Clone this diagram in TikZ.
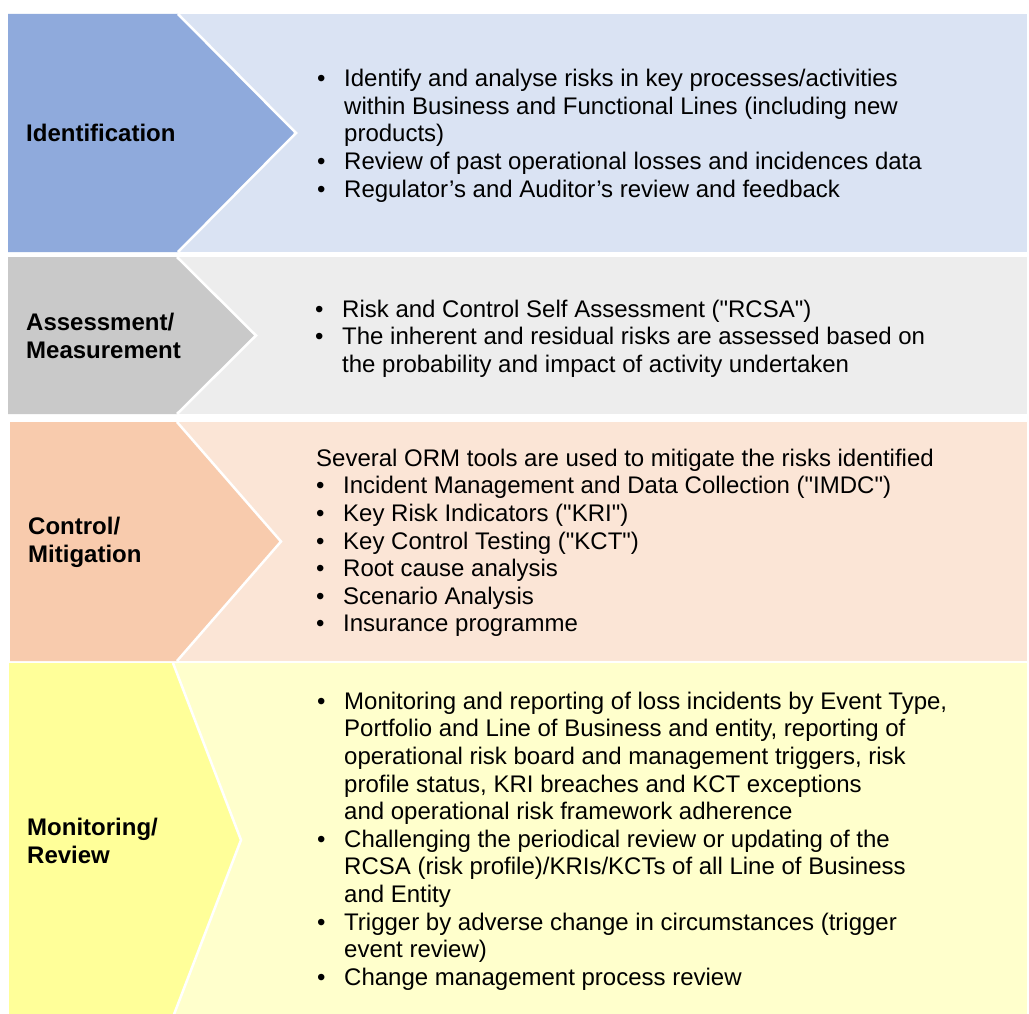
\documentclass[tikz,border=0pt]{standalone}
\usepackage{fontspec}
\setmainfont{Liberation Sans}

\definecolor{idarrow}{HTML}{8FAADC}
\definecolor{idpanel}{HTML}{DAE3F3}
\definecolor{asarrow}{HTML}{C9C9C9}
\definecolor{aspanel}{HTML}{EDEDED}
\definecolor{ctarrow}{HTML}{F8CBAD}
\definecolor{ctpanel}{HTML}{FBE5D6}
\definecolor{moarrow}{HTML}{FFFF99}
\definecolor{mopanel}{HTML}{FFFFCC}

% bullet line and its continuation
\newcommand{\bul}[1]{\makebox[27pt][l]{\textbullet}#1}
\newcommand{\cont}[1]{\hspace*{27pt}#1}
% straight quotes around an abbreviation
\newcommand{\abbr}[1]{\textquotedbl#1\textquotedbl}

\tikzset{
  stage/.style={font=\fontsize{24}{28}\selectfont\bfseries, align=left, anchor=west, inner sep=0pt},
  items/.style={font=\fontsize{24}{27.6}\selectfont, align=left, anchor=north west, inner sep=0pt},
  edge/.style={draw=white, line width=2.5pt},
}

\begin{document}
\begin{tikzpicture}[x=1pt, y=-1pt]
\useasboundingbox (0,0) rectangle (1029,1014);
\clip (0,0) rectangle (1029,1014);
\fill[white] (0,0) rectangle (1029,1014);

% identification
\fill[idpanel] (8,14) rectangle (1027,252);
\fill[idarrow] (8,14) -- (178,14) -- (296,133) -- (178,252) -- (8,252) -- cycle;
\draw[edge] (178,14) -- (296,133) -- (178,252);

% assessment / measurement
\fill[aspanel] (8,257) rectangle (1027,414);
\fill[asarrow] (8,257) -- (177,257) -- (256,335.5) -- (177,414) -- (8,414) -- cycle;
\draw[edge] (177,257) -- (256,335.5) -- (177,414);

% control / mitigation
\fill[ctpanel] (10,422) rectangle (1027,661);
\fill[ctarrow] (10,422) -- (177,422) -- (281,541.5) -- (177,661) -- (10,661) -- cycle;
\draw[edge] (177,422) -- (281,541.5) -- (177,661);

% monitoring / review
\fill[mopanel] (9,663) rectangle (1027,1017);
\fill[moarrow] (9,663) -- (173,663) -- (241,840) -- (173,1017) -- (9,1017) -- cycle;
\draw[edge] (173,663) -- (241,840) -- (173,1017);

% stage names
\node[stage] (ident) at (26,133) {Identification};
\node[stage] (assess) at (26,336) {Assessment/\\Measurement};
\node[stage] (control) at (28,542) {Control/\\Mitigation};
\node[stage] (monitor) at (27,841) {Monitoring/\\Review};

% what each stage covers
\node[items] (identtxt) at (317,67.2) {\strut\bul{Identify and analyse risks in key processes/activities}\\
  \cont{within Business and Functional Lines (including new}\\
  \cont{products)}\\
  \bul{Review of past operational losses and incidences data}\\
  \bul{Regulator’s and Auditor’s review and feedback}};

\node[items] (assesstxt) at (315,297.7) {\strut\bul{Risk and Control Self Assessment (\abbr{RCSA})}\\
  \bul{The inherent and residual risks are assessed based on}\\
  \cont{the probability and impact of activity undertaken}};

\node[items] (controltxt) at (316,446.7) {\strut Several ORM tools are used to mitigate the risks identified\\
  \bul{Incident Management and Data Collection (\abbr{IMDC})}\\
  \bul{Key Risk Indicators (\abbr{KRI})}\\
  \bul{Key Control Testing (\abbr{KCT})}\\
  \bul{Root cause analysis}\\
  \bul{Scenario Analysis}\\
  \bul{Insurance programme}};

\node[items] (monitortxt) at (317,689.7) {\strut\bul{Monitoring and reporting of loss incidents by Event Type,}\\
  \cont{Portfolio and Line of Business and entity, reporting of}\\
  \cont{operational risk board and management triggers, risk}\\
  \cont{profile status, KRI breaches and KCT exceptions}\\
  \cont{and operational risk framework adherence}\\
  \bul{Challenging the periodical review or updating of the}\\
  \cont{RCSA (risk profile)/KRIs/KCTs of all Line of Business}\\
  \cont{and Entity}\\
  \bul{Trigger by adverse change in circumstances (trigger}\\
  \cont{event review)}\\
  \bul{Change management process review}};
\end{tikzpicture}
\end{document}
